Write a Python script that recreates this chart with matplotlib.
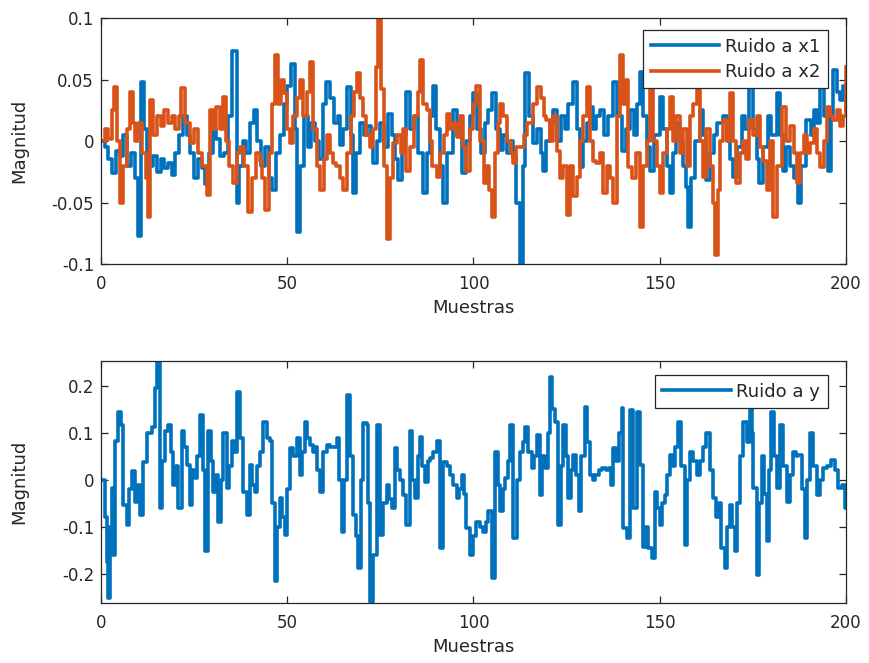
import matplotlib
matplotlib.use("Agg")
import matplotlib.pyplot as plt

plt.rcParams['font.family'] = ['DejaVu Sans']
plt.rcParams['axes.unicode_minus'] = False

# ---------------- data ----------------
x1_t = [0, 1, 2, 3, 4, 5, 6, 7, 8, 9, 10, 10.8, 11.5, 12.3, 13, 14, 15, 16, 17, 18, 19, 20, 21, 22, 23, 24, 25, 26, 27, 28, 29, 30,
        31, 32, 33, 34, 35.1, 36.4, 37, 38, 39, 40, 41, 42, 43, 44, 45, 46, 47, 48, 49, 50, 51, 52, 52.7, 53.5, 54.5, 55.5, 56.5,
        57.5, 58.5, 59.5, 60.5, 61.5, 62.5, 63.5, 64.2, 65, 66, 67, 67.7, 68.5, 69.5, 70.5, 71.5, 72.5, 73.1, 74, 75, 76, 77, 78,
        79, 79.8, 80.8, 82, 83, 84, 85, 86.5, 87.5, 88.3, 89.2, 90, 91, 91.9, 93, 94.6, 95.5, 96.8, 98, 99, 100, 101, 102, 103,
        104, 105, 106, 107.1, 108, 109, 110, 110.7, 111.5, 112.5, 113.2, 113.8, 115, 116, 117, 118, 118.7, 119.5, 120.5, 121.4,
        122.5, 123.5, 124.5, 125.5, 126.8, 127.7, 128.6, 129.5, 130.5, 131.3, 132.2, 133, 134, 135, 136, 137.5, 138.5, 140, 141,
        142, 143, 144, 144.7, 145.5, 146.5, 147.4, 148.5, 150, 151, 152, 152.7, 153.5, 154.5, 155.5, 156.3, 157, 157.7, 158.5,
        159.5, 160.8, 161.7, 162.5, 163.5, 164.5, 165.5, 167, 168, 169, 169.7, 170.7, 172, 173, 174, 175, 176, 176.7, 177.7, 179,
        180, 181.4, 182.2, 183, 184, 185, 186, 187, 188, 189.4, 190.5, 191.5, 192.3, 193, 194, 195.3, 196, 196.6, 197.5, 198.4,
        199.2, 200]
x1_v = [0.0, -0.005, -0.015, -0.026, -0.008, -0.012, 0.005, -0.02, -0.01, -0.03, -0.077, 0.048, 0.01, -0.03, -0.02, -0.012,
        -0.025, -0.015, -0.022, -0.018, -0.028, -0.01, 0.005, 0.02, 0.005, -0.01, -0.03, -0.015, -0.022, -0.035, -0.01, 0.01,
        0.002, -0.012, -0.01, 0.02, 0.073, -0.05, -0.02, 0.0, -0.01, 0.015, 0.025, 0.0, -0.02, -0.005, -0.03, -0.04, -0.01, 0.005,
        0.03, 0.045, 0.063, 0.01, -0.074, -0.02, 0.02, -0.005, 0.015, 0.0, -0.015, 0.03, 0.048, 0.035, 0.015, 0.02, -0.003, 0.01,
        0.044, 0.005, -0.042, -0.01, 0.015, 0.005, 0.012, -0.005, -0.018, 0.0, 0.015, -0.005, 0.022, 0.005, -0.015, -0.032,
        0.005, 0.04, 0.01, 0.02, -0.01, -0.042, -0.01, 0.02, 0.045, 0.01, -0.02, -0.05, -0.01, 0.025, 0.005, -0.026, 0.0, 0.02,
        0.039, 0.01, -0.01, 0.015, 0.025, 0.039, 0.01, -0.007, 0.005, -0.01, 0.0, -0.013, -0.05, -0.1, -0.02, 0.055, 0.02,
        -0.002, 0.01, -0.01, -0.024, 0.0, 0.015, 0.025, 0.0, 0.02, 0.01, 0.03, 0.048, 0.01, -0.021, 0.0, 0.015, 0.028, 0.01,
        0.02, 0.025, 0.005, 0.02, 0.048, 0.02, -0.008, 0.01, 0.025, 0.005, 0.03, 0.056, 0.02, -0.005, -0.024, 0.005, 0.036, 0.01,
        -0.02, -0.042, -0.01, 0.015, 0.0, -0.02, -0.037, -0.07, -0.03, 0.0, 0.025, 0.005, -0.032, -0.01, 0.005, 0.015, 0.02, 0.0,
        -0.015, -0.029, -0.005, 0.02, 0.01, 0.044, 0.01, -0.015, -0.034, -0.005, 0.02, 0.005, 0.039, 0.005, -0.024, -0.005,
        -0.02, -0.03, -0.05, -0.02, 0.017, 0.005, 0.025, 0.015, 0.044, 0.02, -0.024, 0.02, 0.058, 0.04, 0.033, 0.045, 0.025]

x2_t = [0, 1, 2, 3, 3.4, 4.2, 5.2, 6, 7, 7.8, 8.5, 9.2, 10, 11, 12, 12.6, 13.1, 14, 15, 16, 17, 18, 19, 20, 21, 21.6, 22.5, 23.9,
        25, 26, 27, 28.4, 29.3, 30, 31, 32, 32.8, 33.5, 34.5, 35.5, 36.5, 37.3, 38.3, 39.5, 40.5, 41.5, 42.7, 43.3, 44, 45, 46,
        46.7, 47.5, 48.2, 49, 50, 50.8, 51.5, 52.5, 53.4, 54.3, 55.2, 56.1, 57, 58, 58.8, 59.8, 60.8, 61.5, 62.4, 63.2, 64.2, 65,
        66, 67, 68, 68.6, 69.5, 70.3, 71.2, 72.2, 73, 73.8, 74.4, 75.3, 76, 76.7, 77.5, 78.5, 79.5, 80.5, 81.2, 82, 83, 84, 85,
        85.6, 86.5, 87.4, 88.2, 89, 90.1, 91, 92, 92.8, 93.8, 94.6, 95.5, 96.3, 97.2, 98.1, 99, 100, 100.8, 101.7, 102.7, 103.5,
        104.2, 104.9, 105.8, 106.5, 107.1, 108, 109, 110, 110.7, 111.5, 112.5, 113.5, 114.5, 116, 117, 118, 118.8, 119.6, 120.5,
        121.4, 122.3, 123.2, 124, 125, 125.9, 126.8, 127.7, 128.6, 129.5, 130.4, 131.3, 132.2, 133, 134, 134.9, 135.8, 136.6,
        137.5, 138.4, 139.3, 140.2, 141, 141.5, 142.5, 143.5, 144.7, 145.6, 146.5, 147.4, 148.3, 149.2, 150, 151, 152, 152.7,
        153.6, 154.5, 155.4, 156.3, 157.2, 158.1, 159, 159.9, 160.8, 161.6, 162.5, 163.4, 164.2, 164.8, 165.6, 166.3, 167, 168,
        168.9, 169.8, 170.6, 171.5, 172.4, 173.2, 174, 175, 176, 176.9, 177.8, 178.7, 179.6, 180.5, 181.4, 182.7, 183.8, 184.9,
        186, 186.8, 187.7, 188.6, 189.5, 190.4, 191.3, 192.2, 193.1, 194, 194.8, 195.7, 196.6, 197.5, 198.4, 199.2, 200]
x2_v = [0.0, 0.01, 0.002, 0.025, 0.044, 0.0, -0.05, -0.02, 0.01, 0.04, 0.015, 0.0, 0.015, -0.01, -0.03, -0.062, 0.033, 0.005,
        0.02, 0.012, 0.025, 0.015, 0.02, 0.01, 0.02, 0.043, 0.015, -0.002, 0.01, -0.01, -0.02, -0.044, 0.025, 0.01, 0.028, 0.01,
        0.036, 0.0, -0.02, -0.034, -0.01, -0.005, -0.02, -0.058, -0.03, -0.01, -0.016, -0.03, -0.056, -0.01, 0.03, 0.07, 0.03,
        0.05, 0.039, 0.01, -0.002, 0.02, 0.035, 0.05, 0.02, 0.04, 0.064, 0.01, -0.02, -0.04, -0.015, 0.005, -0.01, -0.018, -0.02,
        -0.03, -0.04, -0.01, 0.02, 0.04, 0.055, 0.035, 0.02, 0.005, -0.005, 0.01, 0.06, 0.1, 0.042, -0.02, -0.08, -0.03, -0.002,
        0.005, -0.01, 0.01, -0.024, -0.005, 0.02, 0.04, 0.066, 0.03, 0.025, 0.0, -0.02, -0.029, -0.01, 0.005, 0.022, 0.01, 0.015,
        0.003, 0.02, -0.005, -0.024, 0.01, 0.03, 0.045, 0.0, -0.034, -0.02, -0.04, -0.062, -0.01, 0.015, 0.03, 0.02, 0.0, -0.01,
        -0.018, -0.005, -0.005, 0.005, 0.015, 0.03, 0.044, 0.035, 0.02, 0.017, 0.0, 0.02, -0.008, -0.03, -0.02, -0.06, -0.02,
        -0.045, -0.029, 0.0, 0.02, 0.044, 0.0, -0.016, -0.018, -0.01, -0.042, -0.02, -0.03, -0.05, 0.02, 0.07, 0.03, 0.05,
        -0.021, -0.03, -0.01, -0.07, -0.02, 0.0, 0.042, 0.0, -0.02, -0.042, -0.01, 0.01, 0.036, 0.0, 0.02, -0.01, 0.01, -0.02,
        0.02, 0.03, 0.042, 0.0, -0.029, 0.01, -0.02, -0.05, -0.093, -0.04, 0.0, 0.017, 0.0, 0.039, 0.0, -0.034, -0.01, 0.0,
        -0.015, 0.017, 0.005, 0.02, -0.005, -0.016, -0.04, 0.0, -0.062, -0.02, 0.028, 0.0, 0.012, -0.01, -0.034, -0.01, 0.005,
        -0.01, -0.002, 0.01, -0.01, -0.021, 0.0, 0.028, 0.02, 0.017, 0.025, 0.012, 0.02, 0.06]

y_t = [0, 0.6, 1.1, 1.5, 2, 2.5, 2.9, 3.3, 3.8, 4.7, 5.5, 6, 6.9, 7.5, 8.2, 9.1, 9.8, 10.5, 11.4, 12.3, 13.6, 14.5, 15, 15.8,
       16.5, 17.2, 18.1, 18.8, 19.4, 20.1, 20.8, 21.7, 22.3, 23, 23.9, 24.5, 25.2, 25.9, 26.6, 27.3, 28, 28.8, 29.5, 30.2, 30.8,
       31.5, 32.2, 32.8, 33.7, 34.4, 35.1, 35.8, 36.4, 37.3, 38.2, 39.1, 40, 40.6, 41.3, 42, 42.8, 43.6, 44.5, 45.4, 46, 46.7,
       47.3, 48, 48.7, 49.4, 50, 50.7, 51.6, 52.5, 53.4, 54.1, 54.8, 55.4, 56.1, 56.8, 57.5, 58.1, 58.8, 59.5, 60.6, 61.5, 62.4,
       63.3, 64, 64.6, 65.3, 66, 66.8, 67.7, 68.4, 69.1, 69.8, 70.4, 71.3, 71.7, 72.2, 73.1, 74, 74.9, 75.8, 76.7, 77.3, 78,
       78.9, 79.6, 80.4, 81.2, 82, 82.9, 83.6, 84.3, 85, 85.6, 86.3, 87, 87.7, 88.3, 89.2, 90.1, 91, 91.9, 92.8, 93.6, 94.5,
       95.5, 96.2, 96.8, 97.5, 98.1, 99, 99.9, 100.8, 101.7, 102.6, 103.3, 104, 104.9, 105.8, 106.5, 107.1, 107.8, 108.5, 109.2,
       109.8, 110.7, 111.6, 112.5, 113.2, 113.8, 114.7, 115.6, 116.3, 117, 117.8, 118.5, 119.2, 119.9, 120.5, 121.2, 121.9,
       122.8, 123.5, 124.1, 124.8, 125.5, 126.1, 126.8, 127.5, 128.2, 129, 130, 130.6, 131.3, 132, 132.7, 133.6, 134.5, 135.5,
       136.3, 137, 137.5, 138.2, 139, 139.8, 140.2, 141.1, 142, 142.9, 143.8, 144.7, 145.6, 146.2, 146.9, 147.8, 148.7, 149.3,
       150, 150.7, 151.4, 152, 152.7, 153.4, 154.2, 154.9, 155.8, 156.7, 157.3, 158, 158.9, 159.9, 160.7, 161.6, 162.5, 163.4,
       164.3, 165, 165.8, 166.5, 167.4, 168.1, 168.8, 169.5, 170.1, 170.8, 171.6, 172.4, 173.3, 174.2, 174.7, 175.1, 176, 176.7,
       177.4, 178, 178.7, 179.3, 180, 180.7, 181.4, 182.3, 183.2, 184.1, 185, 185.8, 186.5, 187.2, 188.1, 189, 189.6, 190.3,
       191.2, 192.1, 193, 193.9, 195, 196.1, 197, 197.9, 198.8, 199.7, 200]
y_v = [0.0, 0.0, -0.08, -0.174, -0.252, -0.1, -0.018, -0.16, 0.082, 0.145, 0.117, -0.053, -0.095, -0.02, 0.018, -0.046, -0.01,
       -0.074, 0.039, 0.099, 0.113, 0.195, 0.252, -0.06, 0.04, 0.103, 0.117, 0.06, -0.011, 0.03, -0.06, 0.103, 0.07, 0.032,
       -0.053, 0.02, 0.003, 0.05, 0.138, 0.02, -0.152, 0.103, 0.04, -0.025, 0.01, -0.089, 0.0, 0.099, -0.018, 0.03, 0.082, 0.06,
       0.188, 0.089, -0.025, -0.074, 0.032, -0.01, -0.025, 0.03, 0.06, 0.124, 0.09, 0.082, -0.05, -0.216, -0.1, -0.039, -0.08,
       -0.117, -0.02, 0.068, 0.05, 0.089, 0.011, 0.06, 0.124, 0.09, 0.075, 0.06, 0.07, 0.02, -0.025, 0.06, 0.075, 0.07, 0.07,
       0.089, 0.0, -0.11, 0.0, 0.18, 0.05, -0.074, -0.12, -0.188, 0.0, 0.12, 0.117, -0.05, -0.259, -0.16, 0.117, -0.117, -0.05,
       -0.011, -0.04, -0.06, 0.068, 0.02, 0.0, -0.032, -0.096, 0.103, 0.0, -0.039, 0.05, 0.092, 0.03, -0.004, 0.04, 0.046, 0.06,
       0.082, -0.145, 0.039, 0.03, 0.011, -0.01, -0.039, -0.02, 0.011, -0.03, -0.103, -0.16, -0.12, -0.089, -0.1, -0.11, -0.09,
       -0.067, -0.209, 0.06, -0.01, -0.067, -0.02, 0.003, 0.04, 0.117, -0.124, 0.0, 0.06, 0.08, 0.113, 0.06, 0.025, 0.05, 0.096,
       -0.032, 0.05, 0.025, 0.1, 0.22, 0.15, 0.124, -0.096, 0.03, 0.117, 0.05, -0.039, 0.02, 0.053, 0.01, -0.067, 0.05, 0.156,
       0.08, 0.011, 0.0, 0.01, 0.021, 0.025, 0.022, 0.025, -0.011, 0.068, 0.04, 0.1, 0.152, -0.103, -0.124, 0.149, -0.06, 0.145,
       0.032, -0.142, -0.1, -0.145, -0.167, -0.025, -0.06, -0.096, -0.05, -0.032, 0.01, 0.053, 0.03, 0.07, 0.124, 0.03, -0.138,
       0.0, 0.06, 0.04, 0.011, 0.04, 0.07, 0.099, 0.02, -0.039, -0.08, -0.05, -0.145, -0.188, -0.1, -0.053, -0.1, -0.152, -0.05,
       0.05, 0.124, 0.08, 0.152, 0.1, -0.018, -0.202, -0.05, 0.05, -0.03, -0.131, 0.02, 0.145, 0.05, -0.018, 0.117, 0.03,
       -0.046, 0.01, 0.06, 0.05, 0.053, -0.02, -0.124, 0.0, 0.099, 0.03, -0.032, 0.0, 0.025, 0.03, 0.043, 0.02, -0.018, -0.01,
       -0.06, -0.06]

x_ticks = [0, 50, 100, 150, 200]
top_yticks = [-0.1, -0.05, 0, 0.05, 0.1]
top_ylabels = ['-0.1', '-0.05', '0', '0.05', '0.1']
bot_yticks = [-0.2, -0.1, 0, 0.1, 0.2]
bot_ylabels = ['-0.2', '-0.1', '0', '0.1', '0.2']

BLUE = '#0072BD'
ORANGE = '#D95319'
AXC = '#262626'
LW = 2.6

fig = plt.figure(figsize=(8.69, 6.63), dpi=100)
ax1 = fig.add_axes([0.1162, 0.6018, 0.8573, 0.371])
ax2 = fig.add_axes([0.1162, 0.0905, 0.8573, 0.365])


def style(ax):
    for s in ax.spines.values():
        s.set_color(AXC)
        s.set_linewidth(0.9)
    ax.tick_params(direction='in', top=True, right=True, length=5, width=0.9,
                   colors=AXC, labelsize=12)
    ax.tick_params(axis='x', pad=8)
    ax.tick_params(axis='y', pad=5)
    ax.set_xlim(0, 200)
    ax.set_xticks(x_ticks)
    ax.set_xticklabels([str(t) for t in x_ticks])
    ax.set_xlabel('Muestras', fontsize=13, color=AXC, labelpad=4)
    ax.set_ylabel('Magnitud', fontsize=13, color=AXC)
    ax.yaxis.set_label_coords(-0.098, 0.5)


def legend(ax, anchor):
    lg = ax.legend(loc='upper right', bbox_to_anchor=anchor, fontsize=13, frameon=True,
                   fancybox=False, edgecolor=AXC, framealpha=1, handlelength=3.8,
                   borderpad=0.42, labelspacing=0.4, handletextpad=0.32, borderaxespad=0)
    lg.get_frame().set_linewidth(0.9)
    for t in lg.get_texts():
        t.set_color(AXC)
    return lg


ax1.plot(x1_t, x1_v, color=BLUE, lw=LW, drawstyle='steps-post', label='Ruido a x1')
ax1.plot(x2_t, x2_v, color=ORANGE, lw=LW, drawstyle='steps-post', label='Ruido a x2')
style(ax1)
ax1.set_ylim(-0.1, 0.1)
ax1.set_yticks(top_yticks)
ax1.set_yticklabels(top_ylabels)
legend(ax1, (0.9758, 0.9512))

ax2.plot(y_t, y_v, color=BLUE, lw=LW, drawstyle='steps-post', label='Ruido a y')
style(ax2)
ax2.set_ylim(-0.262, 0.253)
ax2.set_yticks(bot_yticks)
ax2.set_yticklabels(bot_ylabels)
legend(ax2, (0.9758, 0.942))

fig.savefig('out.png', dpi=100)
